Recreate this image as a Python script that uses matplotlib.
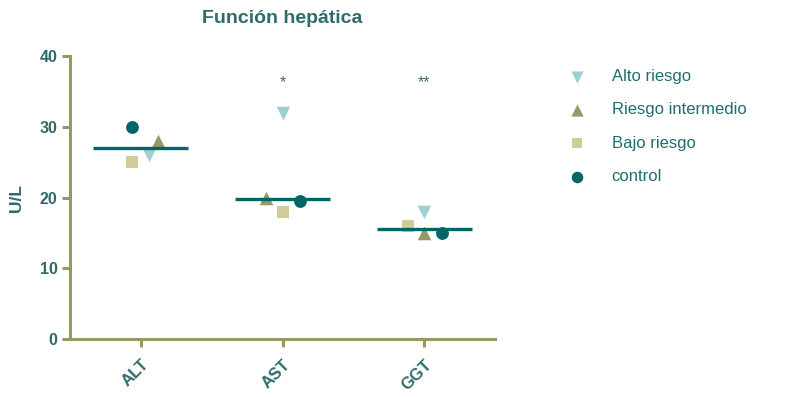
import matplotlib
matplotlib.use("Agg")
import matplotlib.pyplot as plt
import numpy as np

plt.rcParams['font.family'] = ['Liberation Sans', 'DejaVu Sans']

# Data
categories = ["ALT", "AST", "GGT"]
groups = ["Alto riesgo", "Riesgo intermedio", "Bajo riesgo", "control"]
alto_riesgo = [26, 32, 18]
riesgo_intermedio = [28, 20, 15]
bajo_riesgo = [25, 18, 16]
control = [30, 19.5, 15]
medians = [27, 19.75, 15.5]
significance = ["", "*", "**"]
y_ticks = [0, 10, 20, 30, 40]

# Horizontal jitter of each group within a column (category units)
offsets = {
    "Alto riesgo": [0.06, 0.0, 0.0],
    "Riesgo intermedio": [0.12, -0.115, 0.0],
    "Bajo riesgo": [-0.06, 0.0, -0.115],
    "control": [-0.06, 0.12, 0.125],
}

styles = {
    "Alto riesgo": dict(marker="v", color="#9dd0d0", s=95),
    "Riesgo intermedio": dict(marker="^", color="#999668", s=95),
    "Bajo riesgo": dict(marker="s", color="#cfcc99", s=75),
    "control": dict(marker="o", color="#006666", s=85),
}

series = {
    "Alto riesgo": alto_riesgo,
    "Riesgo intermedio": riesgo_intermedio,
    "Bajo riesgo": bajo_riesgo,
    "control": control,
}

axis_color = "#9a9766"
text_color = "#2f6b6b"

fig = plt.figure(figsize=(7.91, 3.97), dpi=100)
ax = fig.add_axes([70 / 791, 1 - 339 / 397, 425 / 791, 283 / 397])

x = np.arange(1, len(categories) + 1)
handles = []
for g in groups:
    xs = x + np.array(offsets[g])
    st = styles[g]
    h = ax.scatter(xs, series[g], marker=st["marker"], color=st["color"],
                   s=st["s"], linewidths=0, zorder=3, label=g, clip_on=False)
    handles.append(h)

# Median lines
for xi, m in zip(x, medians):
    ax.hlines(m, xi - 0.335, xi + 0.335, color="#006666", lw=2.4, zorder=4)

# Significance marks
for xi, s in zip(x, significance):
    if s:
        ax.text(xi, 36.2, s, ha="center", va="center", color="#3d7070",
                fontsize=11.5)

ax.set_xlim(0.5, 3.5)
ax.set_ylim(0, 40)
ax.set_yticks(y_ticks)
ax.set_xticks(x)
ax.set_xticklabels(categories, rotation=45, ha="right", rotation_mode="anchor",
                   fontsize=12, fontweight="bold", color=text_color)
ax.set_yticklabels([str(t) for t in y_ticks], fontsize=11.5, fontweight="bold",
                   color=text_color)

for side in ["top", "right"]:
    ax.spines[side].set_visible(False)
for side in ["left", "bottom"]:
    ax.spines[side].set_color(axis_color)
    ax.spines[side].set_linewidth(2.2)
ax.tick_params(axis="both", color=axis_color, width=2.2, length=6)
ax.tick_params(axis="x", pad=7)
ax.tick_params(axis="y", pad=3)

ax.set_ylabel("U/L", fontsize=12.5, fontweight="bold", color=text_color, labelpad=11)
ax.set_title("Función hepática", fontsize=14, fontweight="bold", color=text_color, pad=24)

leg = fig.legend(handles=handles, labels=groups, loc="upper left",
                 bbox_to_anchor=(545 / 791, 1 - 54 / 397), frameon=False,
                 fontsize=12, labelspacing=1.1, handletextpad=1.1,
                 markerscale=0.9)
for t in leg.get_texts():
    t.set_color("#1e6e6e")

fig.savefig("out.png", dpi=100)
